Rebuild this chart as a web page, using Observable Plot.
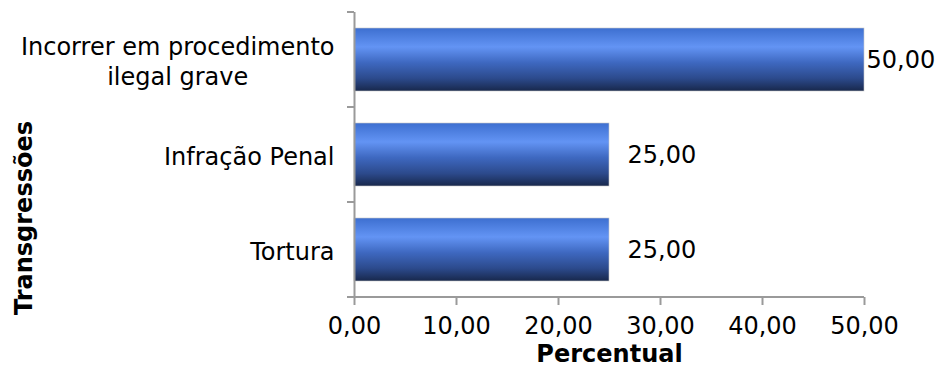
<!DOCTYPE html>
<html><head><meta charset="utf-8">
<script src="https://cdn.jsdelivr.net/npm/d3@7"></script>
<script src="https://cdn.jsdelivr.net/npm/@observablehq/plot@0.6"></script>
<style>
html,body{margin:0;padding:0;background:#fff;}
svg{font-family:"DejaVu Sans",Verdana,sans-serif;}
</style></head>
<body><div id="chart"></div>
<script>
const categories = ["Incorrer em procedimento\nilegal grave", "Infração Penal", "Tortura"];
const values = [50, 25, 25];
const xTicks = [0, 10, 20, 30, 40, 50];
const xTitle = "Percentual";
const yTitle = "Transgressões";

const data = categories.map((c, i) => ({cat: c, v: values[i]}));
const fmt = d => d.toFixed(2).replace(".", ",");
const maxV = d3.max(values);

const defs = () => {
  const ns = "http://www.w3.org/2000/svg";
  const d = document.createElementNS(ns, "defs");
  d.innerHTML = `<linearGradient id="barGrad" x1="0" y1="0" x2="0" y2="1">
    <stop offset="0" stop-color="#3d6fd0"/>
    <stop offset="0.3" stop-color="#6394f4"/>
    <stop offset="0.55" stop-color="#3e68c0"/>
    <stop offset="0.8" stop-color="#2c4a8c"/>
    <stop offset="1" stop-color="#18284c"/>
  </linearGradient>`;
  return d;
};

const FS = 24;
const plot = Plot.plot({
  width: 938, height: 367,
  marginLeft: 354, marginRight: 74, marginTop: 12, marginBottom: 70,
  style: {fontFamily: "DejaVu Sans, Verdana, sans-serif", fontSize: FS + "px", color: "#000", background: "#fff"},
  x: {domain: [0, 50], ticks: xTicks, label: null},
  y: {domain: categories, paddingInner: 32/95, paddingOuter: 16/95, label: null},
  marks: [
    defs,
    Plot.barX(data, {x: "v", y: "cat", fill: "url(#barGrad)", stroke: "#c8c8c8", strokeWidth: 0.6}),
    Plot.ruleX([0], {stroke: "#9a9a9a", strokeWidth: 2}),
    Plot.axisX({ticks: xTicks, tickFormat: fmt, tickSize: 8, tickPadding: 11, stroke: "#9a9a9a", strokeWidth: 2, fontSize: FS, label: null}),
    Plot.axisY({tickSize: 0, tickPadding: 20, fontSize: FS, lineHeight: 1.25, label: null}),
    Plot.text(data.filter(d => d.v < maxV), {x: "v", y: "cat", text: d => fmt(d.v), textAnchor: "start", dx: 18, fontSize: FS}),
    Plot.text(data.filter(d => d.v >= maxV), {x: "v", y: "cat", text: d => fmt(d.v), textAnchor: "start", dx: 2, fontSize: FS}),
    Plot.text([xTitle], {frameAnchor: "bottom", dy: 64, fontWeight: "bold", fontSize: FS}),
    Plot.text([yTitle], {frameAnchor: "left", textAnchor: "middle", dx: -330, dy: 63, rotate: -90, fontWeight: "bold", fontSize: FS})
  ]
});

// x-axis baseline and category boundary ticks, from the plot's own scales
const sx = plot.scale("x"), sy = plot.scale("y");
const xs = d3.scaleLinear().domain(sx.domain).range(sx.range);
const svgEl = plot.tagName === "svg" ? plot : plot.querySelector("svg");
const svg = d3.select(svgEl);
const y0 = sy.range[0], y1 = sy.range[1];
const g = svg.append("g").attr("stroke", "#9a9a9a").attr("stroke-width", 2);
g.append("line").attr("x1", xs(0) - 7).attr("x2", xs(50)).attr("y1", y1).attr("y2", y1);
const edges = [y0];
for (let i = 0; i < categories.length; i++) edges.push(y0 + (i + 1) * sy.step);
edges.forEach(e => g.append("line").attr("x1", xs(0) - 7).attr("x2", xs(0)).attr("y1", e).attr("y2", e));

document.getElementById("chart").appendChild(plot);

// center-align the lines of multi-line category labels (right edge kept)
svgEl.querySelectorAll("g[aria-label='y-axis tick label'] text").forEach(t => {
  const sp = t.querySelectorAll("tspan");
  if (sp.length > 1) {
    const w = t.getBBox().width;
    t.setAttribute("text-anchor", "middle");
    sp.forEach(s => s.setAttribute("x", -w / 2));
  }
});
</script></body></html>
